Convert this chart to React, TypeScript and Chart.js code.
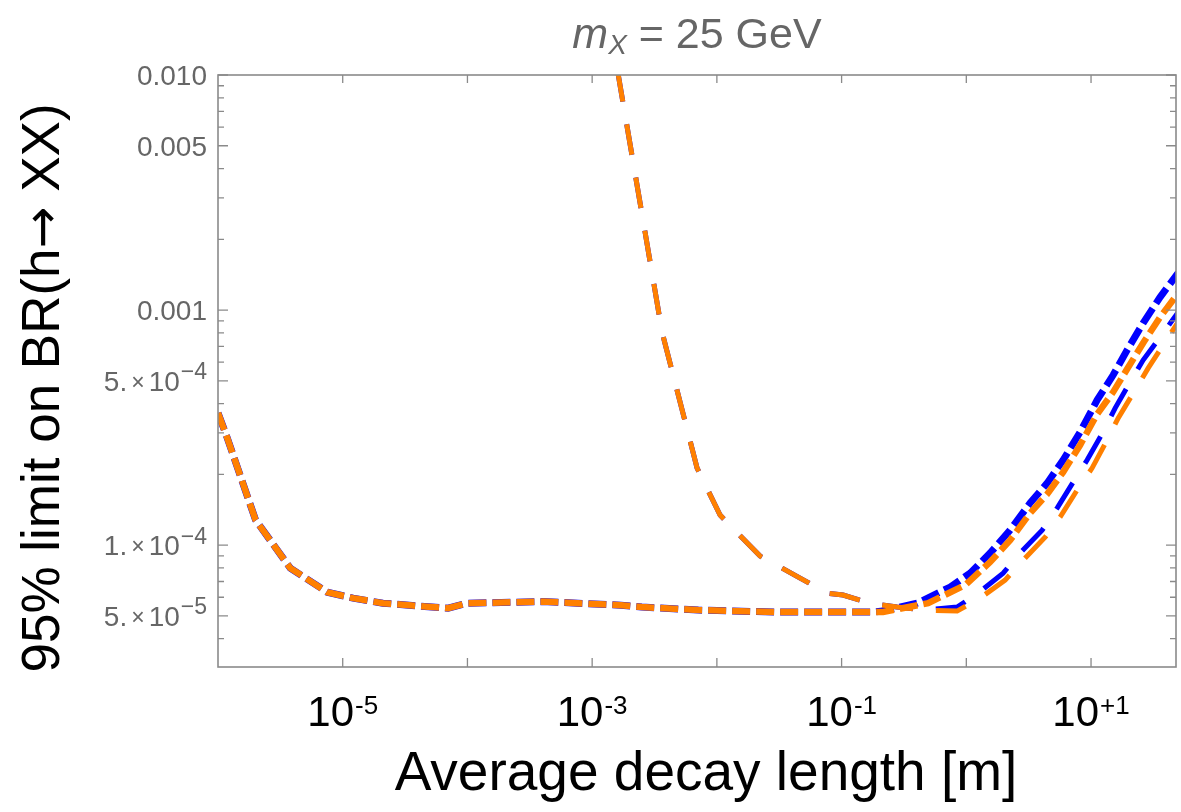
import React, { useEffect, useRef } from "react";
import { Chart, registerables } from "chart.js";

Chart.register(...registerables);

// ---- axis ranges ----
const X_RANGE = [1e-6, 48];
const Y_RANGE = [3.03e-5, 0.01];

// ---- ticks and tick labels ----
const X_TICKS = [1e-5, 1e-4, 1e-3, 1e-2, 1e-1, 1, 10];
const X_LABEL_VALUES = [1e-5, 1e-3, 1e-1, 10];
const X_LABEL_EXPONENTS = ["-5", "-3", "-1", "+1"];

const Y_TICKS = [
  4e-5, 5e-5, 6e-5, 7e-5, 8e-5, 9e-5,
  1e-4, 2e-4, 3e-4, 4e-4, 5e-4, 6e-4, 7e-4, 8e-4, 9e-4,
  1e-3, 2e-3, 3e-3, 4e-3, 5e-3, 6e-3, 7e-3, 8e-3, 9e-3, 1e-2,
];
const Y_LABEL_VALUES = [5e-5, 1e-4, 5e-4, 1e-3, 5e-3, 1e-2];
const Y_LABEL_MANTISSAS = ["5.", "1.", "5.", "0.001", "0.005", "0.010"];
const Y_LABEL_EXPONENTS = ["\u22125", "\u22124", "\u22124", "", "", ""];

// ---- series (x: average decay length [m], y: 95% limit on BR) ----
const BLUE_SHORT_X = [1e-6, 1.18e-6, 2.0e-6, 3.8e-6, 7.5e-6, 1.21e-5, 2.1e-5, 7.0e-5, 9.9e-5, 4.0e-4, 1.7e-3, 2.5e-3, 7.1e-3, 2.9e-2, 0.18, 0.215, 0.403, 0.742, 1.073, 1.552, 2.245, 3.248, 4.446, 5.974, 8.176, 11.19, 15.04, 19.48, 26.17, 35.83, 50];
const BLUE_SHORT_Y = [3.65e-4, 2.88e-4, 1.28e-4, 7.98e-5, 6.31e-5, 5.95e-5, 5.66e-5, 5.39e-5, 5.66e-5, 5.75e-5, 5.55e-5, 5.45e-5, 5.29e-5, 5.19e-5, 5.19e-5, 5.24e-5, 5.66e-5, 6.63e-5, 7.6e-5, 9.25e-5, 1.158e-4, 1.51e-4, 1.835e-4, 2.3e-4, 3.027e-4, 4.14e-4, 5.29e-4, 6.76e-4, 8.81e-4, 1.136e-3, 1.44e-3];

const ORANGE_SHORT_X = [1e-6, 1.18e-6, 2.0e-6, 3.8e-6, 7.5e-6, 1.21e-5, 2.1e-5, 7.0e-5, 9.9e-5, 4.0e-4, 1.7e-3, 2.5e-3, 7.1e-3, 2.9e-2, 0.18, 0.215, 0.494, 0.978, 1.552, 2.245, 3.248, 4.446, 5.974, 8.176, 11.19, 15.04, 19.48, 26.17, 35.83, 50];
const ORANGE_SHORT_Y = [3.65e-4, 2.88e-4, 1.28e-4, 7.98e-5, 6.31e-5, 5.95e-5, 5.66e-5, 5.39e-5, 5.66e-5, 5.75e-5, 5.55e-5, 5.45e-5, 5.29e-5, 5.19e-5, 5.19e-5, 5.19e-5, 5.66e-5, 6.76e-5, 8.47e-5, 1.05e-4, 1.368e-4, 1.648e-4, 2.045e-4, 2.664e-4, 3.607e-4, 4.478e-4, 5.61e-4, 7.24e-4, 9.34e-4, 1.18e-3];

const BLUE_LONG_X = [1.6e-3, 3.635e-3, 6.94e-3, 1.061e-2, 2.22e-2, 4.65e-2, 7.65e-2, 0.1028, 0.1693, 0.2787, 0.467, 0.844, 1.244, 1.973, 2.701, 4.055, 5.349, 7.186, 9.305, 12.5, 15.61, 20.59, 26.17, 37.86, 50];
const BLUE_LONG_Y = [1.04e-2, 8.06e-4, 2.127e-4, 1.342e-4, 8.98e-5, 7.24e-5, 6.25e-5, 6.13e-5, 5.66e-5, 5.45e-5, 5.29e-5, 5.45e-5, 6.25e-5, 7.6e-5, 9.25e-5, 1.158e-4, 1.437e-4, 1.853e-4, 2.3e-4, 3.027e-4, 3.828e-4, 4.94e-4, 6.13e-4, 7.98e-4, 9.8e-4];

const ORANGE_LONG_X = [1.6e-3, 3.635e-3, 6.94e-3, 1.061e-2, 2.22e-2, 4.65e-2, 7.65e-2, 0.1028, 0.1693, 0.2787, 0.467, 0.844, 1.29, 2.047, 2.854, 4.284, 5.651, 7.736, 10.2, 13.46, 16.5, 22.58, 28.71, 39.29, 50];
const ORANGE_LONG_Y = [1.04e-2, 8.06e-4, 2.127e-4, 1.342e-4, 8.98e-5, 7.24e-5, 6.25e-5, 6.13e-5, 5.66e-5, 5.45e-5, 5.29e-5, 5.24e-5, 5.95e-5, 7.1e-5, 8.63e-5, 1.081e-4, 1.315e-4, 1.714e-4, 2.127e-4, 2.798e-4, 3.47e-4, 4.57e-4, 5.66e-4, 7.31e-4, 8.9e-4];

// ---- texts ----
const TITLE_PARTS = ["m", "X", " = 25 GeV"];
const X_TITLE = "Average decay length [m]";
const Y_TITLE_PARTS = ["95% limit on BR(h", "\u2192", " XX)"];

// ---- styles ----
const FONT = "'Liberation Sans', Arial, Helvetica, sans-serif";
const ARROW_FONT = "'DejaVu Sans', sans-serif";
const GRAY = "rgb(102,102,102)";
const FRAME = "rgb(138,138,138)";
const BLUE = "rgb(0,0,255)";
const ORANGE = "rgb(255,128,0)";

const pts = (xs: number[], ys: number[]) => xs.map((x, i) => ({ x, y: ys[i] }));

const decorPlugin = {
  id: "decor",
  afterDatasetsDraw(chart: any) {
    const { ctx, chartArea: a } = chart;
    const xs = chart.scales.x;
    const ys = chart.scales.y;
    ctx.save();

    // frame
    ctx.strokeStyle = FRAME;
    ctx.lineWidth = 1.6;
    ctx.strokeRect(a.left, a.top, a.right - a.left, a.bottom - a.top);

    // inward ticks
    ctx.lineWidth = 1.3;
    ctx.beginPath();
    Y_TICKS.forEach((v) => {
      const p = ys.getPixelForValue(v);
      const len = Y_LABEL_VALUES.includes(v) ? 10 : 6;
      ctx.moveTo(a.left, p);
      ctx.lineTo(a.left + len, p);
      ctx.moveTo(a.right, p);
      ctx.lineTo(a.right - len, p);
    });
    X_TICKS.forEach((v) => {
      const p = xs.getPixelForValue(v);
      ctx.moveTo(p, a.bottom);
      ctx.lineTo(p, a.bottom - 9);
      ctx.moveTo(p, a.top);
      ctx.lineTo(p, a.top + 8);
    });
    ctx.stroke();

    // y tick labels
    ctx.fillStyle = GRAY;
    ctx.textBaseline = "alphabetic";
    ctx.textAlign = "right";
    const right = a.left - 11;
    Y_LABEL_VALUES.forEach((v, i) => {
      const p = ys.getPixelForValue(v);
      const base = p + 10;
      const exp = Y_LABEL_EXPONENTS[i];
      if (exp) {
        let cur = right;
        ctx.font = `23px ${FONT}`;
        ctx.fillText(exp, cur, p - 1.5);
        cur -= ctx.measureText(exp).width + 1;
        ctx.font = `28px ${FONT}`;
        ctx.fillText("10", cur, base);
        cur -= ctx.measureText("10").width + 4;
        ctx.font = `23px ${FONT}`;
        ctx.fillText("\u00d7", cur, base - 1);
        cur -= ctx.measureText("\u00d7").width + 4;
        ctx.font = `28px ${FONT}`;
        ctx.fillText(Y_LABEL_MANTISSAS[i], cur, base);
      } else {
        ctx.font = `28px ${FONT}`;
        ctx.fillText(Y_LABEL_MANTISSAS[i], right, base);
      }
    });

    // x tick labels
    ctx.fillStyle = "#000";
    ctx.textAlign = "left";
    X_LABEL_VALUES.forEach((v, i) => {
      const p = xs.getPixelForValue(v);
      const exp = X_LABEL_EXPONENTS[i];
      ctx.font = `42px ${FONT}`;
      const wb = ctx.measureText("10").width;
      ctx.font = `26px ${FONT}`;
      const we = ctx.measureText(exp).width;
      const start = p - (wb + 1 + we) / 2;
      ctx.font = `42px ${FONT}`;
      ctx.fillText("10", start, a.bottom + 59);
      ctx.font = `26px ${FONT}`;
      ctx.fillText(exp, start + wb + 1, a.bottom + 47);
    });

    // title
    const cx = (a.left + a.right) / 2;
    const fonts = [`italic 43px ${FONT}`, `italic 28px ${FONT}`, `43px ${FONT}`];
    const dys = [0, 6, 0];
    const widths = TITLE_PARTS.map((t, i) => {
      ctx.font = fonts[i];
      return ctx.measureText(t).width;
    });
    let tx = cx - widths.reduce((s, w) => s + w, 0) / 2;
    ctx.fillStyle = GRAY;
    TITLE_PARTS.forEach((t, i) => {
      ctx.font = fonts[i];
      ctx.fillText(t, tx, 48 + dys[i]);
      tx += widths[i];
    });

    // x axis title
    ctx.fillStyle = "#000";
    ctx.font = `55px ${FONT}`;
    ctx.textAlign = "center";
    ctx.fillText(X_TITLE, cx + 9, 790);

    // y axis title (rotated), arrow in a font with a bolder glyph
    const yFonts = [`53px ${FONT}`, `50px ${ARROW_FONT}`, `53px ${FONT}`];
    const yWidths = Y_TITLE_PARTS.map((t, i) => {
      ctx.font = yFonts[i];
      return ctx.measureText(t).width;
    });
    ctx.translate(59, 388);
    ctx.rotate(-Math.PI / 2);
    ctx.textAlign = "left";
    let yx = -yWidths.reduce((s, w) => s + w, 0) / 2;
    Y_TITLE_PARTS.forEach((t, i) => {
      ctx.font = yFonts[i];
      ctx.fillText(t, yx, 0);
      yx += yWidths[i];
    });

    ctx.restore();
  },
};

export default function App() {
  const ref = useRef<HTMLCanvasElement>(null);

  useEffect(() => {
    document.body.style.margin = "0";
    const short = [18, 6];
    const long = [31, 23];
    const chart = new Chart(ref.current as HTMLCanvasElement, {
      type: "line",
      data: {
        datasets: [
          { label: "orange long", data: pts(ORANGE_LONG_X, ORANGE_LONG_Y), borderColor: ORANGE, borderWidth: 5, borderDash: long },
          { label: "orange short", data: pts(ORANGE_SHORT_X, ORANGE_SHORT_Y), borderColor: ORANGE, borderWidth: 6.5, borderDash: short },
          { label: "blue long", data: pts(BLUE_LONG_X, BLUE_LONG_Y), borderColor: BLUE, borderWidth: 5, borderDash: long },
          { label: "blue short", data: pts(BLUE_SHORT_X, BLUE_SHORT_Y), borderColor: BLUE, borderWidth: 7, borderDash: short },
        ].map((d) => ({ ...d, fill: false, tension: 0, pointRadius: 0, clip: 0, borderCapStyle: "butt" as const })),
      },
      options: {
        responsive: false,
        animation: false,
        devicePixelRatio: 1,
        layout: { padding: { left: 218, top: 75, right: 5, bottom: 145 } },
        scales: {
          x: { type: "logarithmic", min: X_RANGE[0], max: X_RANGE[1], display: false },
          y: { type: "logarithmic", min: Y_RANGE[0], max: Y_RANGE[1], display: false },
        },
        plugins: { legend: { display: false }, tooltip: { enabled: false }, title: { display: false } },
        events: [],
      },
      plugins: [decorPlugin],
    });
    return () => chart.destroy();
  }, []);

  return (
    <div style={{ position: "fixed", left: 0, top: 0, width: 1181, height: 812, background: "#fff" }}>
      <canvas ref={ref} width={1181} height={812} style={{ display: "block" }} />
    </div>
  );
}
